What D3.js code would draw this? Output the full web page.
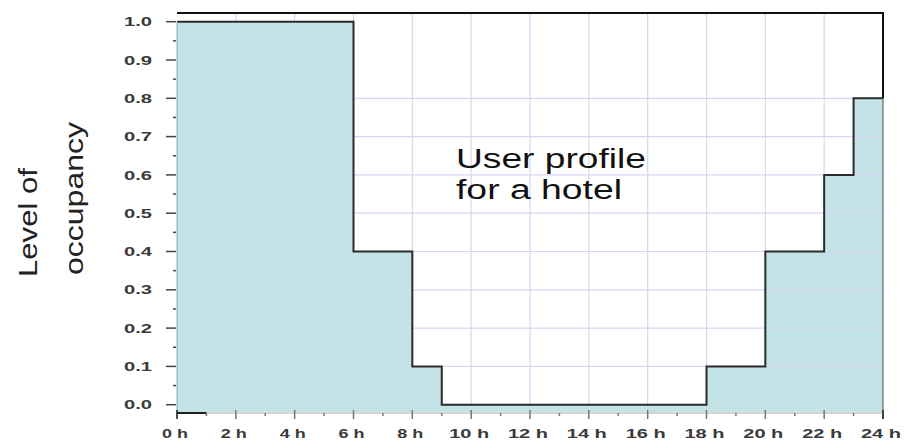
<!DOCTYPE html>
<html>
<head>
<meta charset="utf-8">
<script src="https://cdn.jsdelivr.net/npm/d3@7"></script>
<style>
	body { margin: 0; background: #fff; }
	svg { display: block; font-family: "Liberation Sans", Arial, sans-serif; }
</style>
</head>
<body>
<script>
// start hour of each step and the occupancy held until the next one
const hours = [0, 6, 8, 9, 18, 20, 22, 23, 24];
const occupancy = [1.0, 0.4, 0.1, 0.0, 0.1, 0.4, 0.6, 0.8, 0.8];

const xTicks = [0, 2, 4, 6, 8, 10, 12, 14, 16, 18, 20, 22, 24];
const xMinor = [1, 3, 5, 7, 9, 11, 13, 15, 17, 19, 21, 23];
const yTicks = [0, 0.1, 0.2, 0.3, 0.4, 0.5, 0.6, 0.7, 0.8, 0.9, 1.0];
const yMinor = [0.05, 0.15, 0.25, 0.35, 0.45, 0.55, 0.65, 0.75, 0.85, 0.95];

const w = 905;
const h = 444;

const x = d3.scaleLinear().domain([0, 24]).range([177, 883]);
const y = d3.scaleLinear().domain([0, 1]).range([404.7, 21.7]);

const frameTop = 13;
const axisY = 413;

const svg = d3.select("body")
				.append("svg")
				.attr("width", w)
				.attr("height", h);

const steps = hours.map((d, i) => [d, occupancy[i]]);

// filled area under the profile
svg.append("path")
	.datum(steps)
	.attr("fill", "#c4e3e6")
	.attr("d", d3.area()
		.curve(d3.curveStepAfter)
		.x(d => x(d[0]))
		.y0(axisY - 1)
		.y1(d => y(d[1])));

// grid, only visible where the area is not
const grid = svg.append("g")
				.attr("stroke", "#d6d6f3")
				.attr("stroke-width", 1.2);

grid.selectAll(".vgrid")
	.data(xTicks.slice(1, -1))
	.enter()
	.append("line")
	.attr("x1", d => x(d))
	.attr("x2", d => x(d))
	.attr("y1", frameTop)
	.attr("y2", d => {
		let i = d3.bisectRight(hours, d) - 1;
		return y(occupancy[i]);
	});

grid.selectAll(".hgrid")
	.data(yTicks.slice(1))
	.enter()
	.append("line")
	.attr("y1", d => y(d))
	.attr("y2", d => y(d))
	.attr("x1", d => {
		// first hour where occupancy drops below this level
		let i = occupancy.findIndex(v => v < d - 0.001);
		return x(hours[i]);
	})
	.attr("x2", d => {
		let i = occupancy.length - 1;
		while (i > 0 && occupancy[i - 1] < d - 0.001) i--;
		return x(hours[i]);
	});

// profile line
svg.append("path")
	.datum(steps)
	.attr("fill", "none")
	.attr("stroke", "#2b2b2b")
	.attr("stroke-width", 2)
	.attr("d", d3.line()
		.curve(d3.curveStepAfter)
		.x(d => x(d[0]))
		.y(d => y(d[1])));

// frame: top and right
svg.append("line")
	.attr("x1", x(0)).attr("x2", x(24) + 1)
	.attr("y1", frameTop).attr("y2", frameTop)
	.attr("stroke", "#111")
	.attr("stroke-width", 2);
svg.append("line")
	.attr("x1", x(24)).attr("x2", x(24))
	.attr("y1", frameTop).attr("y2", y(0.8))
	.attr("stroke", "#111")
	.attr("stroke-width", 2);
svg.append("line")
	.attr("x1", x(24)).attr("x2", x(24))
	.attr("y1", y(0.8)).attr("y2", axisY + 6)
	.attr("stroke", "#666")
	.attr("stroke-width", 1.2);
svg.append("line")
	.attr("x1", x(0)).attr("x2", x(0))
	.attr("y1", y(1)).attr("y2", axisY + 4)
	.attr("stroke", "#8aa")
	.attr("stroke-width", 1);

// y axis ticks
svg.selectAll(".ytick")
	.data(yTicks)
	.enter()
	.append("line")
	.attr("x1", 166).attr("x2", 176)
	.attr("y1", d => y(d)).attr("y2", d => y(d))
	.attr("stroke", "#444")
	.attr("stroke-width", 1.5);
svg.selectAll(".yminor")
	.data(yMinor)
	.enter()
	.append("line")
	.attr("x1", 173).attr("x2", 176)
	.attr("y1", d => y(d)).attr("y2", d => y(d))
	.attr("stroke", "#444")
	.attr("stroke-width", 1.5);
svg.selectAll(".ylabel")
	.data(yTicks)
	.enter()
	.append("text")
	.attr("x", 152)
	.attr("y", d => y(d))
	.attr("dy", "0.36em")
	.attr("text-anchor", "end")
	.attr("font-size", 13)
	.attr("font-weight", "bold")
	.attr("fill", "#3a3a3a")
	.attr("textLength", 28)
	.attr("lengthAdjust", "spacingAndGlyphs")
	.text(d3.format(".1f"));

// x axis
svg.append("line")
	.attr("x1", x(0)).attr("x2", x(24))
	.attr("y1", axisY).attr("y2", axisY)
	.attr("stroke", "#aaa")
	.attr("stroke-width", 1);
svg.append("line")
	.attr("x1", x(0)).attr("x2", x(1))
	.attr("y1", axisY).attr("y2", axisY)
	.attr("stroke", "#222")
	.attr("stroke-width", 2);
svg.selectAll(".xtick")
	.data(xTicks)
	.enter()
	.append("line")
	.attr("x1", d => x(d)).attr("x2", d => x(d))
	.attr("y1", axisY - 3).attr("y2", axisY + 6)
	.attr("stroke", d => (d === 0 || d === 24) ? "#222" : "#777")
	.attr("stroke-width", 1.5);
svg.selectAll(".xminor")
	.data(xMinor)
	.enter()
	.append("line")
	.attr("x1", d => x(d)).attr("x2", d => x(d))
	.attr("y1", axisY).attr("y2", axisY + 3)
	.attr("stroke", "#777")
	.attr("stroke-width", 1.5);
svg.selectAll(".xlabel")
	.data(xTicks)
	.enter()
	.append("text")
	.attr("x", d => x(d) - 2)
	.attr("y", 438)
	.attr("text-anchor", "middle")
	.attr("font-size", 12)
	.attr("font-weight", "bold")
	.attr("fill", "#3a3a3a")
	.attr("textLength", d => d < 10 ? 26 : 40)
	.attr("lengthAdjust", "spacingAndGlyphs")
	.text(d => d + " h");

// axis title
svg.append("text")
	.attr("transform", "translate(37,277) rotate(-90)")
	.attr("font-size", 25)
	.attr("fill", "#222")
	.attr("textLength", 109)
	.attr("lengthAdjust", "spacingAndGlyphs")
	.text("Level of");
svg.append("text")
	.attr("transform", "translate(83,275) rotate(-90)")
	.attr("font-size", 25)
	.attr("fill", "#222")
	.attr("textLength", 153)
	.attr("lengthAdjust", "spacingAndGlyphs")
	.text("occupancy");

// annotation
svg.append("text")
	.attr("x", 456)
	.attr("y", 168)
	.attr("font-size", 27)
	.attr("fill", "#111")
	.attr("textLength", 190)
	.attr("lengthAdjust", "spacingAndGlyphs")
	.text("User profile");
svg.append("text")
	.attr("x", 456)
	.attr("y", 199)
	.attr("font-size", 27)
	.attr("fill", "#111")
	.attr("textLength", 166)
	.attr("lengthAdjust", "spacingAndGlyphs")
	.text("for a hotel");
</script>
</body>
</html>
